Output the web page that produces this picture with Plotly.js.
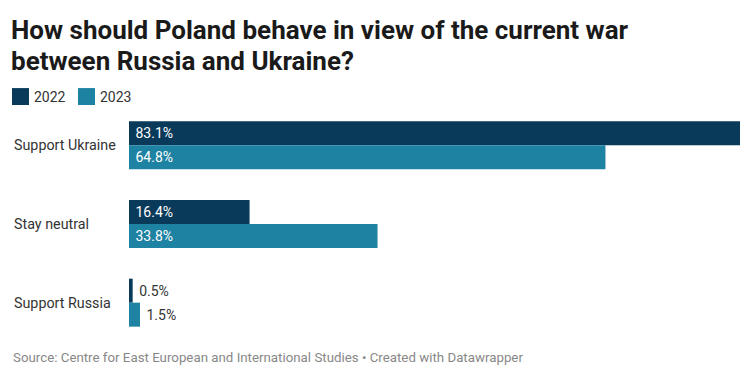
<!DOCTYPE html>
<html><head><meta charset="utf-8">
<script src="https://cdn.plot.ly/plotly-3.0.1.min.js"></script>
<style>html,body{margin:0;padding:0;background:#fff}#chart{width:754px;height:381px}</style>
</head><body><div id="chart"></div>
<script>
const categories = ["Support Ukraine", "Stay neutral", "Support Russia"];
const values2022 = [83.1, 16.4, 0.5];
const values2023 = [64.8, 33.8, 1.5];
const seriesNames = ["2022", "2023"];
const colors = ["#0a3a5a", "#1e82a3"];

const W = 754, H = 381;
const M = {l: 129, r: 14, t: 105.5, b: 38.5};
const PW = W - M.l - M.r, PH = H - M.t - M.b;
// pixel -> paper coordinates (for layout decorations only)
const px = X => (X - M.l) / PW;
const py = Y => (H - M.b - Y) / PH;

function labels(v){ return v.map(x => "\u00a0" + x.toFixed(1) + "%"); }
function positions(v){ return v.map(x => x > 5 ? "inside" : "outside"); }

const traces = [values2022, values2023].map((vals, i) => ({
  type: "bar", orientation: "h", name: seriesNames[i],
  y: categories, x: vals,
  marker: {color: colors[i]},
  text: labels(vals), textposition: positions(vals),
  insidetextanchor: "start", constraintext: "none",
  insidetextfont: {color: "#ffffff", size: 14, family: "Roboto"},
  outsidetextfont: {color: "#333333", size: 14, family: "Roboto"},
  cliponaxis: false, hoverinfo: "skip", showlegend: false
}));

const annotations = categories.map(c => ({
  xref: "paper", yref: "y", x: px(11.5), y: c, text: c,
  xanchor: "left", yanchor: "middle", showarrow: false,
  font: {family: "Roboto", size: 14.3, color: "#333333"}
}));
annotations.push({
  xref: "paper", yref: "paper", x: px(10.5), y: py(358),
  text: "Source: Centre for East European and International Studies • Created with Datawrapper",
  xanchor: "left", yanchor: "middle", showarrow: false,
  font: {family: "Roboto", size: 13.3, color: "#888888"}
});
annotations.push({
  xref: "paper", yref: "paper", x: px(8.5), y: py(60),
  text: "between Russia and Ukraine?",
  xanchor: "left", yanchor: "middle", showarrow: false,
  font: {family: "Roboto", size: 26, color: "#1a1a1a", weight: 700}
});

// legend (manual, Datawrapper-style squares)
const legendX = [12, 78];
const shapes = [];
seriesNames.forEach((n, i) => {
  shapes.push({type: "rect", xref: "paper", yref: "paper",
    x0: px(legendX[i]), x1: px(legendX[i] + 17), y0: py(104.5), y1: py(87.5),
    fillcolor: colors[i], line: {width: 0}});
  annotations.push({xref: "paper", yref: "paper", x: px(legendX[i] + 19.5), y: py(96),
    text: n, xanchor: "left", yanchor: "middle", showarrow: false,
    font: {family: "Roboto", size: 14, color: "#333333"}});
});

const layout = {
  width: W, height: H,
  margin: Object.assign({autoexpand: false}, M),
  paper_bgcolor: "#fff", plot_bgcolor: "#fff",
  title: {text: "How should Poland behave in view of the current war",
    x: 11 / W, xref: "container", xanchor: "left", y: 1 - 21 / H, yref: "container", yanchor: "top",
    font: {family: "Roboto", size: 26, color: "#1a1a1a", weight: 700}},
  barmode: "group", bargap: 0.39, bargroupgap: 0,
  xaxis: {range: [0, 83.1], visible: false, fixedrange: true},
  yaxis: {autorange: "reversed", showticklabels: false, showgrid: false, zeroline: false, showline: false, ticks: ""},
  showlegend: false,
  shapes: shapes,
  annotations: annotations
};
Plotly.newPlot("chart", traces, layout, {staticPlot: true, displayModeBar: false});
</script></body></html>
